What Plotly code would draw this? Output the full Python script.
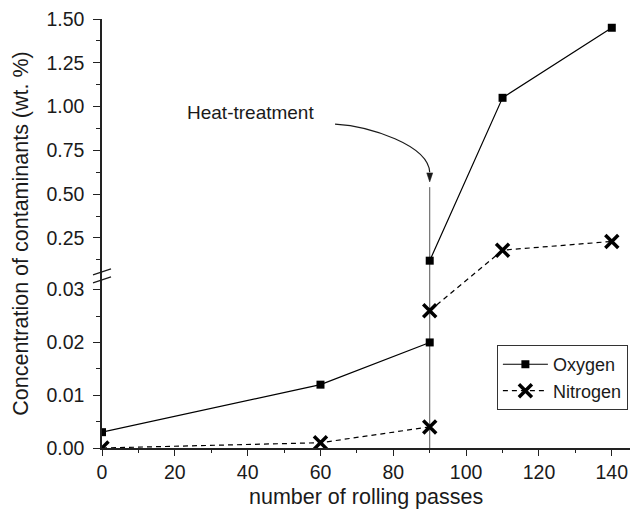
import plotly.graph_objects as go

# --- data -------------------------------------------------------------
# None separates the values measured before and after the heat-treatment
passes = [0, 60, 90, None, 90, 110, 140]
oxygen = [0.003, 0.012, 0.020, None, 0.12, 1.05, 1.45]
nitrogen = [0.000, 0.001, 0.004, None, 0.026, 0.18, 0.23]

x_ticks = [0, 20, 40, 60, 80, 100, 120, 140]
x_minor = [10, 30, 50, 70, 90, 110, 130]

low_ticks = [0.00, 0.01, 0.02, 0.03]
low_labels = ["0.00", "0.01", "0.02", "0.03"]
low_minor = [0.005, 0.015, 0.025]
high_ticks = [0.25, 0.50, 0.75, 1.00, 1.25, 1.50]
high_labels = ["0.25", "0.50", "0.75", "1.00", "1.25", "1.50"]
high_minor = [0.125, 0.375, 0.625, 0.875, 1.125, 1.375]

heat_pass = 90          # rolling pass at which the heat-treatment took place
heat_line_top = 0.54    # top of the marker line (wt. %)

# --- broken y scale ---------------------------------------------------
LOW_MAX = 0.033    # top of the lower segment
HIGH_MIN = 0.045   # bottom of the upper segment
HIGH_MAX = 1.5
BREAK = 0.406      # fraction of the axis height taken by the lower segment


def to_axis(v):
    """Map a concentration onto the two-segment (broken) y axis."""
    if v is None:
        return None
    if v <= LOW_MAX:
        return v / LOW_MAX * BREAK
    return BREAK + (max(v, HIGH_MIN) - HIGH_MIN) / (HIGH_MAX - HIGH_MIN) * (1 - BREAK)


FONT = "Arial, Liberation Sans, sans-serif"
INK = "#1a1a1a"
TICK_FONT = 19.5

fig = go.Figure()

fig.add_trace(go.Scatter(
    x=passes, y=[to_axis(v) for v in oxygen], customdata=oxygen,
    name="Oxygen", mode="lines+markers", connectgaps=False,
    line=dict(color="black", width=1.2),
    marker=dict(symbol="square", size=8, color="black"),
    hovertemplate="%{x}: %{customdata}<extra>Oxygen</extra>",
))
fig.add_trace(go.Scatter(
    x=passes, y=[to_axis(v) for v in nitrogen], customdata=nitrogen,
    name="Nitrogen", mode="lines+markers", connectgaps=False,
    line=dict(color="black", width=1.2, dash="5px,4px"),
    marker=dict(symbol="x-thin", size=13, color="black",
                line=dict(color="black", width=3.5)),
    hovertemplate="%{x}: %{customdata}<extra>Nitrogen</extra>",
))

shapes = []
# heat-treatment marker line
shapes.append(dict(type="line", xref="x", yref="y", layer="below",
                   x0=heat_pass, x1=heat_pass, y0=0, y1=to_axis(heat_line_top),
                   line=dict(color="#555555", width=1)))
# curved pointer from the label to the marker line
c = [(64.0, 0.900), (73.6, 0.888), (89.6, 0.780), (90.0, 0.625)]
path = "M {},{} C {},{} {},{} {},{}".format(
    c[0][0], to_axis(c[0][1]), c[1][0], to_axis(c[1][1]),
    c[2][0], to_axis(c[2][1]), c[3][0], to_axis(c[3][1]))
shapes.append(dict(type="path", xref="x", yref="y", path=path,
                   line=dict(color=INK, width=1.2)))
# arrow head
shapes.append(dict(type="path", xref="x", yref="y",
                   xsizemode="pixel", xanchor=heat_pass,
                   ysizemode="pixel", yanchor=to_axis(0.57),
                   path="M -3,9 L 3,9 L 0,0 Z",
                   fillcolor=INK, line=dict(color=INK, width=0.5)))
# axis break marks
for dy in (-1, -9):
    shapes.append(dict(type="line", xref="paper", yref="paper", layer="above",
                       xsizemode="pixel", xanchor=0, ysizemode="pixel", yanchor=BREAK,
                       x0=-9, x1=9, y0=dy, y1=dy + 6,
                       line=dict(color=INK, width=1.3)))

annotations = [
    dict(xref="x", yref="y", x=40.7, y=to_axis(0.965),
         text="Heat-treatment", showarrow=False, font=dict(size=19, color=INK)),
    # x-axis title, set a little lower than the default title position
    dict(xref="paper", yref="paper", x=0.5, y=0, xanchor="center", yanchor="top",
         yshift=-35, text="number of rolling passes", showarrow=False,
         font=dict(size=21.5, color=INK)),
]

fig.update_layout(
    width=632, height=511,
    margin=dict(l=102, r=2, t=19, b=63),
    paper_bgcolor="white", plot_bgcolor="white",
    font=dict(family=FONT, size=18, color=INK),
    shapes=shapes,
    annotations=annotations,
    legend=dict(x=0.996, y=0.24, xanchor="right", yanchor="top",
                bgcolor="white", bordercolor="#333333", borderwidth=1,
                font=dict(size=18, color=INK), tracegroupgap=0, itemwidth=45),
    xaxis=dict(
        range=[0, 145], showgrid=False, zeroline=False, automargin=False,
        showline=True, linecolor="#222222", linewidth=1.5,
        ticks="outside", ticklen=6, tickwidth=1.3, tickcolor="#222222",
        tickmode="array", tickvals=x_ticks,
        minor=dict(tickmode="array", tickvals=x_minor, ticks="outside",
                   ticklen=3, tickwidth=1.3, tickcolor="#222222"),
        tickfont=dict(size=TICK_FONT),
    ),
    yaxis=dict(
        range=[0, 1], showgrid=False, zeroline=False, automargin=False,
        showline=True, linecolor="#222222", linewidth=1.5,
        ticks="outside", ticklen=7, tickwidth=1.3, tickcolor="#222222",
        ticklabelstandoff=5,
        tickmode="array",
        tickvals=[to_axis(v) for v in low_ticks + high_ticks],
        ticktext=low_labels + high_labels,
        minor=dict(tickmode="array",
                   tickvals=[to_axis(v) for v in low_minor + high_minor],
                   ticks="outside", ticklen=4, tickwidth=1.3, tickcolor="#222222"),
        tickfont=dict(size=TICK_FONT),
        title=dict(text="Concentration of contaminants (wt. %)", font=dict(size=21.5),
                   standoff=12),
    ),
)

fig.write_html("out.html")
